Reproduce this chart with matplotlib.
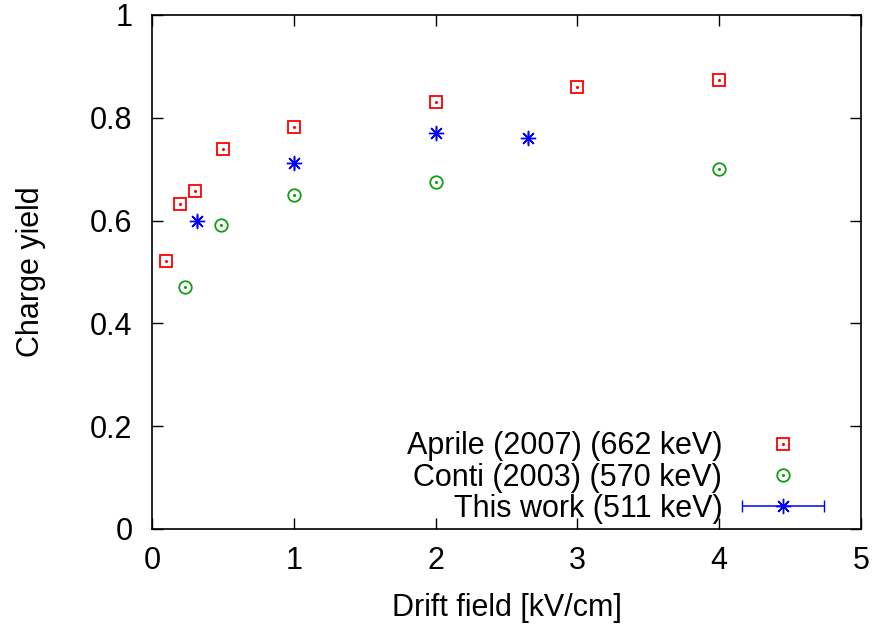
import matplotlib
matplotlib.use("Agg")
import matplotlib.pyplot as plt
from matplotlib.container import ErrorbarContainer
from matplotlib.legend_handler import HandlerErrorbar, HandlerTuple

# --- data ---
aprile_x = [0.1, 0.2, 0.3, 0.5, 1.0, 2.0, 3.0, 4.0]
aprile_y = [0.521, 0.632, 0.658, 0.739, 0.782, 0.831, 0.860, 0.874]

conti_x = [0.23, 0.49, 1.0, 2.0, 4.0]
conti_y = [0.471, 0.591, 0.650, 0.675, 0.700]

work_x = [0.32, 1.0, 2.0, 2.65]
work_y = [0.599, 0.712, 0.770, 0.761]
work_xerr = [0.0, 0.0, 0.0, 0.0]

labels = ["Aprile (2007) (662 keV)", "Conti (2003) (570 keV)", "This work (511 keV)"]
xticks = [0, 1, 2, 3, 4, 5]
yticks = [0, 0.2, 0.4, 0.6, 0.8, 1.0]
ytick_labels = ["0", "0.2", "0.4", "0.6", "0.8", "1"]

RED = "#ff0000"
GREEN = "#109f10"
BLUE = "#0000ff"

plt.rcParams["font.family"] = ["Liberation Sans", "DejaVu Sans"]
plt.rcParams["font.size"] = 22

fig = plt.figure(figsize=(8.72, 6.29), dpi=100)
ax = fig.add_axes([152 / 872, 1 - 529 / 629, 709 / 872, 514 / 629])

# open squares / circles with a small dot in the middle (gnuplot style)
sq, = ax.plot(aprile_x, aprile_y, ls="none", marker="s", ms=8.3, mfc="none",
              mec=RED, mew=1.3)
sq_dot, = ax.plot(aprile_x, aprile_y, ls="none", marker="o", ms=1.2, color=RED)
ci, = ax.plot(conti_x, conti_y, ls="none", marker="o", ms=9, mfc="none",
              mec=GREEN, mew=1.3)
ci_dot, = ax.plot(conti_x, conti_y, ls="none", marker="o", ms=1.2, color=GREEN)
eb = ax.errorbar(work_x, work_y, xerr=work_xerr, ls="none", marker=(8, 2, 0),
                 ms=11, mew=1.0, color=BLUE, ecolor=BLUE, elinewidth=1.1,
                 capsize=4)

ax.set_xlim(0, 5)
ax.set_ylim(0, 1)
ax.set_xticks(xticks)
ax.set_yticks(yticks)
ax.set_yticklabels(ytick_labels)
ax.tick_params(direction="in", length=8, width=1, top=True, right=True)
ax.tick_params(axis="x", pad=12)
ax.tick_params(axis="y", pad=14)
for s in ax.spines.values():
    s.set_linewidth(1.2)

ax.set_xlabel("Drift field [kV/cm]")
ax.set_ylabel("Charge yield")
ax.xaxis.set_label_coords(0.5, -0.125)
ax.yaxis.set_label_coords(-0.149, 0.5)

leg = ax.legend([(sq, sq_dot), (ci, ci_dot), eb], labels,
                loc="lower right", bbox_to_anchor=((824 - 152) / 709, 0.010),
                frameon=False, markerfirst=False, handlelength=2.68,
                handletextpad=0.65, labelspacing=0.04, borderpad=0,
                borderaxespad=0,
                handler_map={tuple: HandlerTuple(ndivide=1, pad=0),
                             ErrorbarContainer: HandlerErrorbar(xerr_size=1.34)})

fig.savefig("out.png", dpi=100)
